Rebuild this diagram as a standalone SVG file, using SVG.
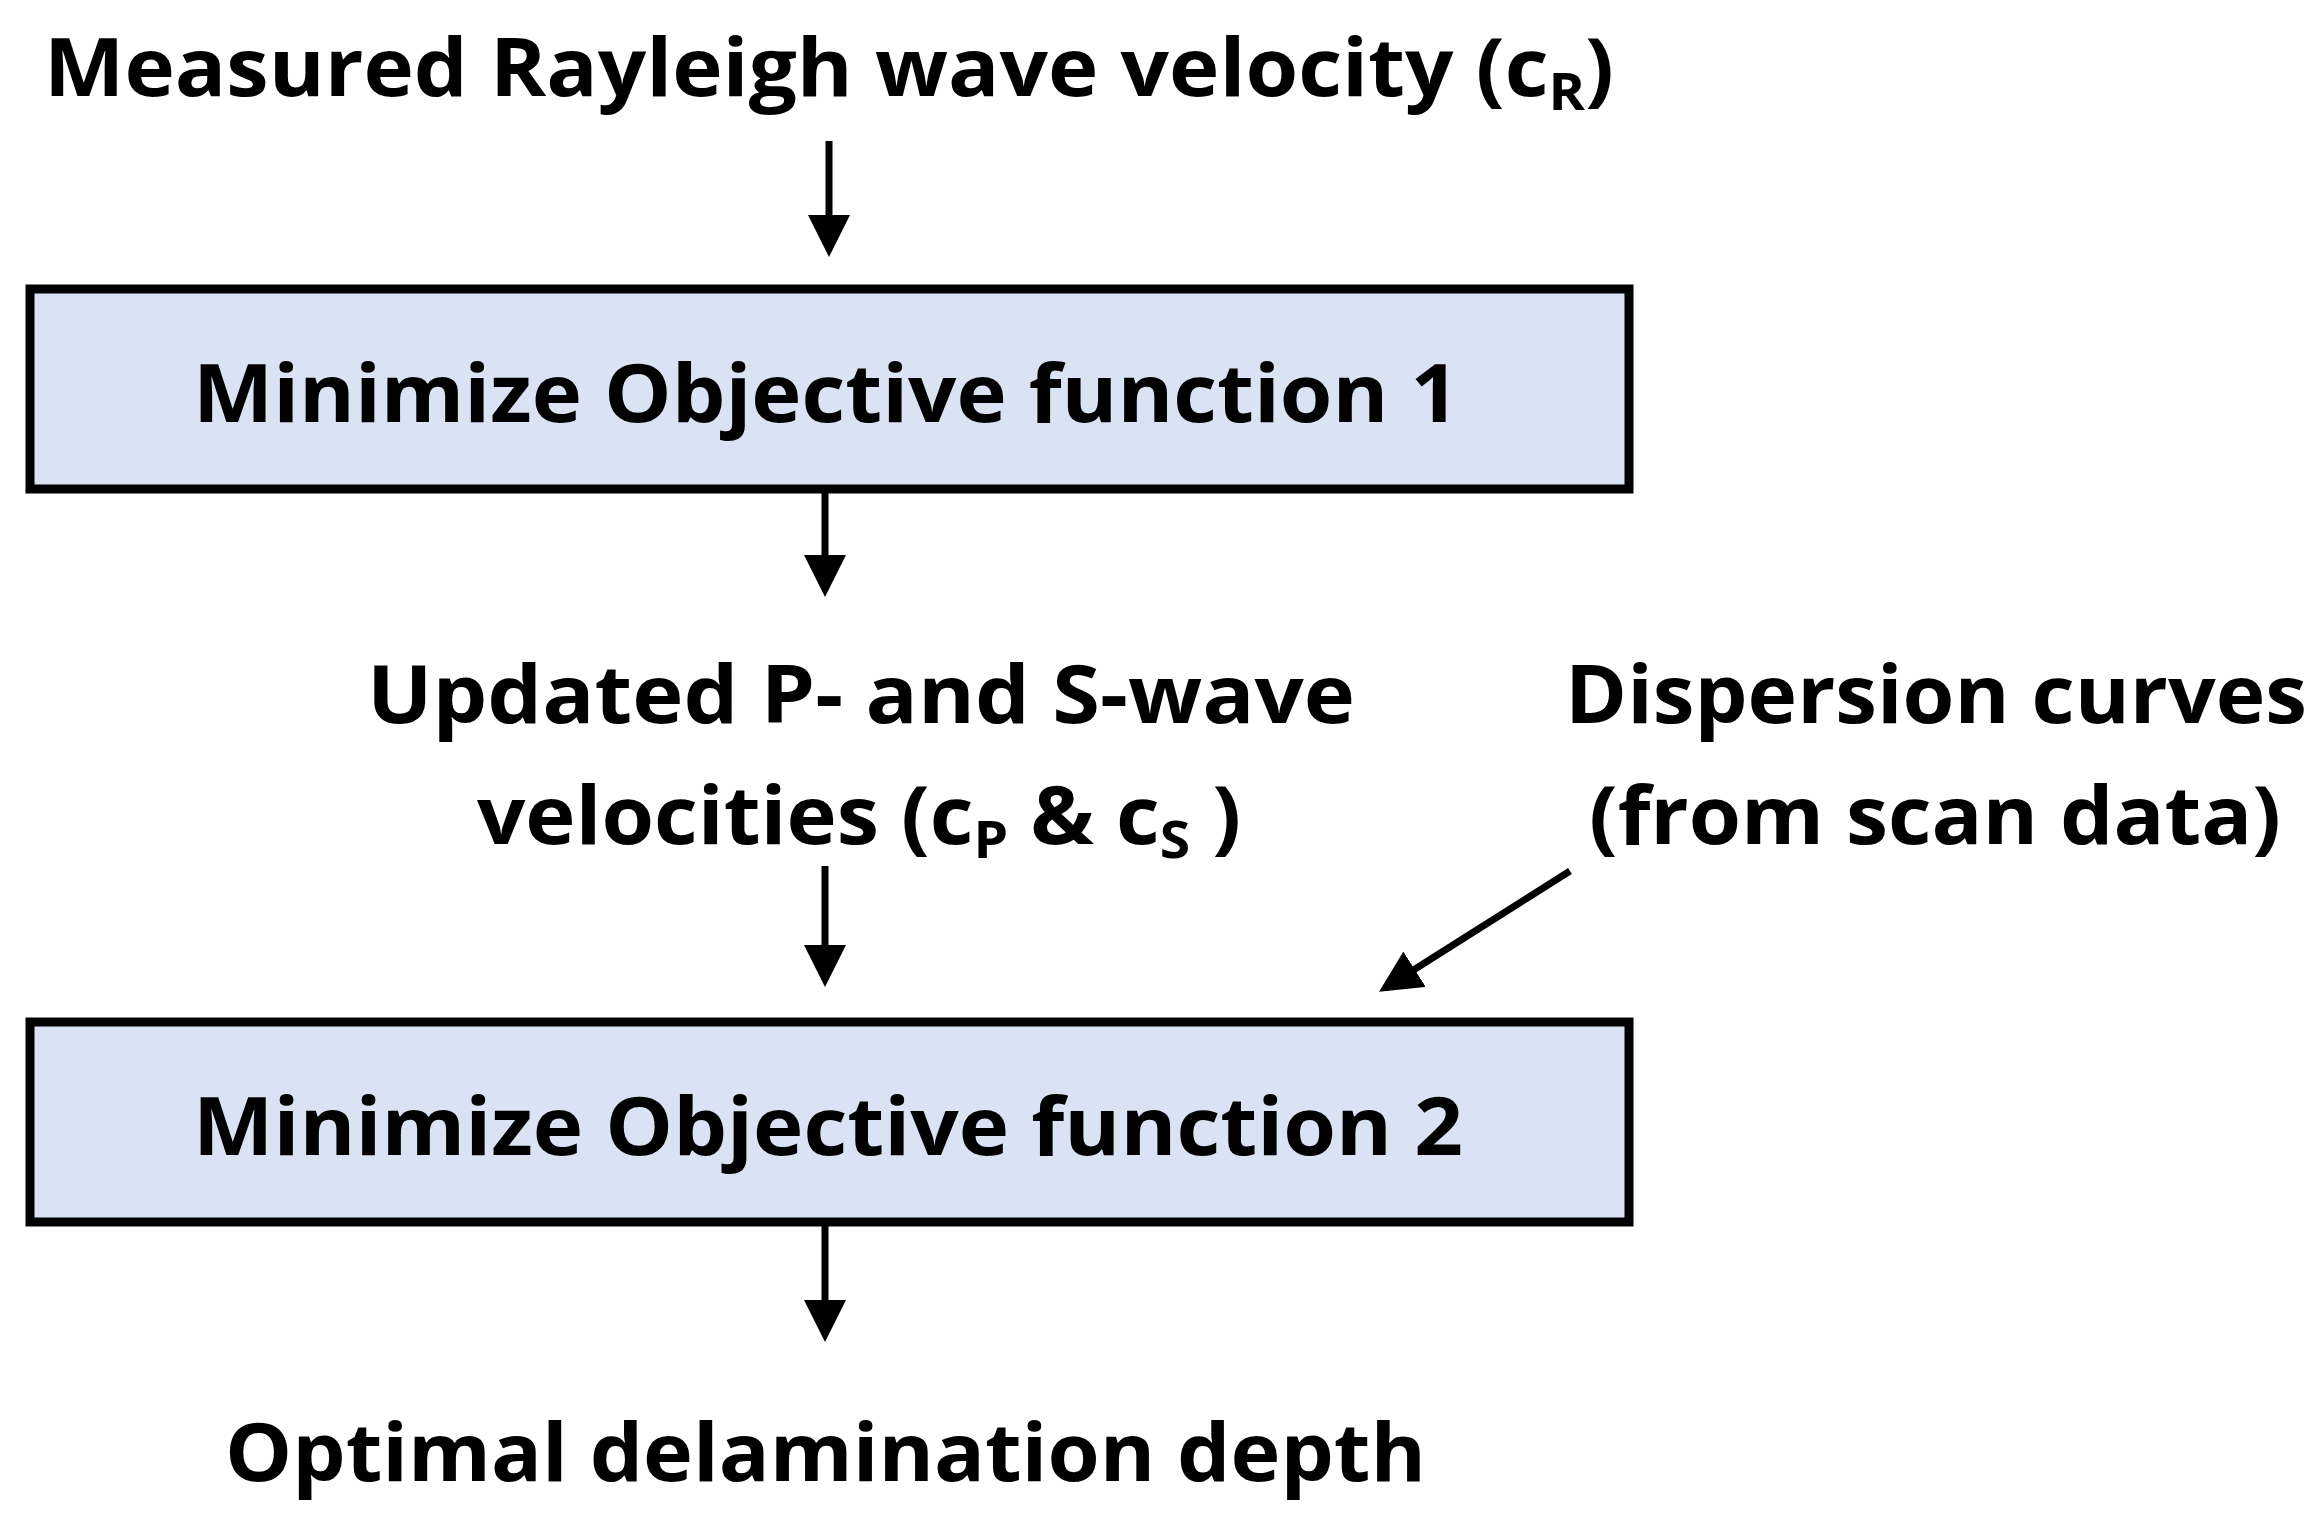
<svg xmlns="http://www.w3.org/2000/svg" width="2322" height="1532" viewBox="0 0 2322 1532">
<style>
text{font-family:"Open Sans","Liberation Sans",sans-serif;font-weight:bold;font-size:80px;fill:#000}
.sub{font-size:52px}
.box{fill:#dae3f3;stroke:#000;stroke-width:9}
.c{stroke:#000;stroke-width:7;fill:none;marker-end:url(#ah)}
</style>
<defs><marker id="ah" markerWidth="6" markerHeight="6" refX="5" refY="3" orient="auto" markerUnits="strokeWidth"><path d="M0,0 L6,3 L0,6 Z" fill="#000"/></marker></defs>
<rect width="2322" height="1532" fill="#fff"/>
<g id="input"><text x="44" y="96" textLength="1570" lengthAdjust="spacingAndGlyphs">Measured Rayleigh wave velocity (c<tspan class="sub" dy="14">R</tspan><tspan dy="-14">)</tspan></text></g>
<g id="box1"><rect class="box" x="30" y="289" width="1599" height="200"/><text x="193" y="422" textLength="1266" lengthAdjust="spacingAndGlyphs">Minimize Objective function 1</text></g>
<g id="updated"><text x="367" y="723" textLength="988" lengthAdjust="spacingAndGlyphs">Updated P- and S-wave</text>
<text x="477" y="844" textLength="764" lengthAdjust="spacingAndGlyphs">velocities (c<tspan class="sub" dy="14">P</tspan><tspan dy="-14"> &amp; c</tspan><tspan class="sub" dy="14">S</tspan><tspan dy="-14"> )</tspan></text></g>
<g id="dispersion"><text x="1565" y="723" textLength="742" lengthAdjust="spacingAndGlyphs">Dispersion curves</text>
<text x="1589" y="844" textLength="692" lengthAdjust="spacingAndGlyphs">(from scan data)</text></g>
<g id="box2"><rect class="box" x="30" y="1022" width="1599" height="200"/><text x="193" y="1155" textLength="1270" lengthAdjust="spacingAndGlyphs">Minimize Objective function 2</text></g>
<g id="output"><text x="225" y="1481" textLength="1201" lengthAdjust="spacingAndGlyphs">Optimal delamination depth</text></g>
<g id="connectors">
<line class="c" x1="829" y1="141" x2="829" y2="250"/>
<line class="c" x1="825" y1="493" x2="825" y2="590"/>
<line class="c" x1="825" y1="866" x2="825" y2="980"/>
<line class="c" x1="1570" y1="871" x2="1385" y2="988"/>
<line class="c" x1="825" y1="1226" x2="825" y2="1335"/>
</g>
</svg>
